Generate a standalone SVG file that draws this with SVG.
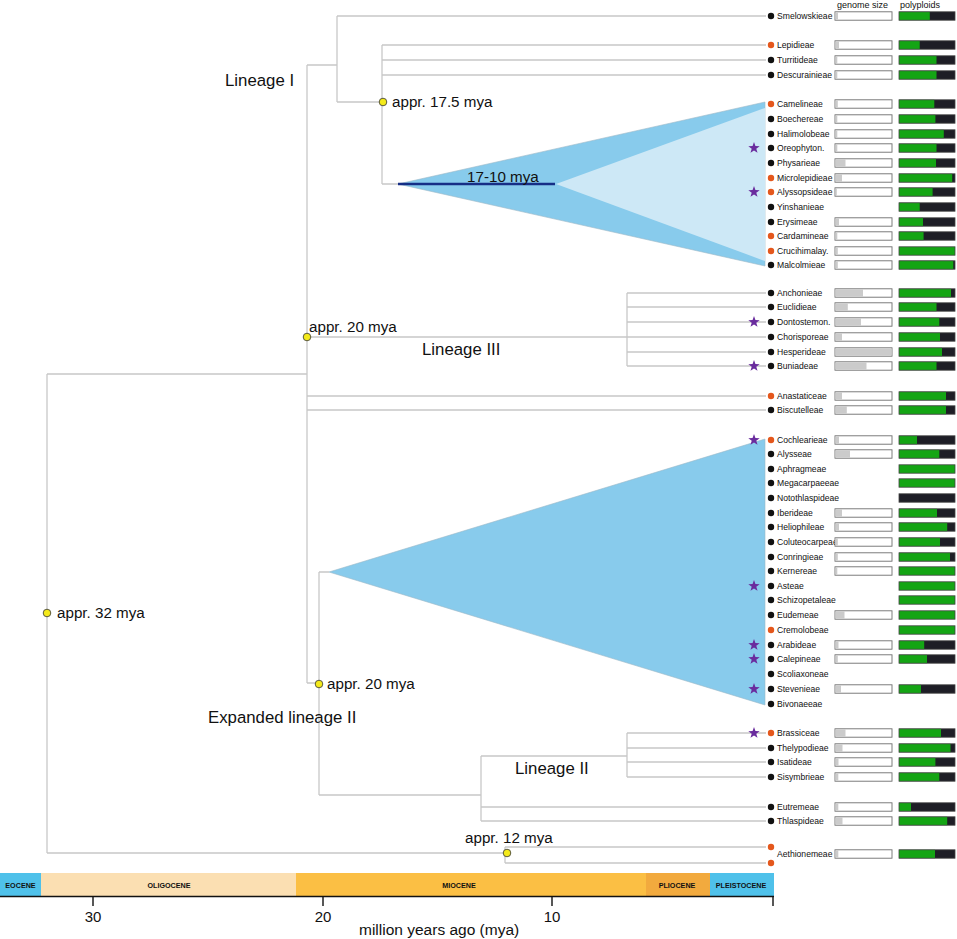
<svg xmlns="http://www.w3.org/2000/svg" xmlns:xlink="http://www.w3.org/1999/xlink" width="957" height="939" viewBox="0 0 957 939">
<style>
text{font-family:"Liberation Sans",Arial,sans-serif;fill:#111}
.lf{font-size:8.6px}
.hd{font-size:9px}
.lb{font-size:16.8px}
.ag{font-size:15.2px}
.ep{font-size:7.2px;font-weight:bold;text-anchor:middle}
.ax{font-size:15px;text-anchor:middle}
.br{fill:none;stroke:#c8c8c8;stroke-width:1.3}
.dk{fill:#111}
.or{fill:#e4571c}
.gb{fill:#fff;stroke:#6e6e6e;stroke-width:0.9}
.gf{fill:#cbcbcb}
.pg{fill:#14a514}
.pb{fill:#1e1e26}
.po{fill:none;stroke:#444;stroke-width:0.8}
.st{fill:#6a2c9e}
.nd{fill:#f4ea1a;stroke:#333;stroke-width:0.8}
</style>
<defs>
<path id="star" d="M0,-6 L1.41,-1.94 L5.71,-1.85 L2.28,0.74 L3.53,4.85 L0,2.4 L-3.53,4.85 L-2.28,0.74 L-5.71,-1.85 L-1.41,-1.94 Z"/>
</defs>
<rect width="957" height="939" fill="#fff"/>

<!-- clade triangles -->
<g id="clade-lineage-I">
<polygon points="398,184 765,102 765,266" fill="#88cbec" stroke="#9cb8c8" stroke-width="0.6"/>
<polygon points="556,184 765,108 765,261" fill="#cde8f6"/>
<line x1="398" y1="184" x2="555" y2="184" stroke="#162e86" stroke-width="2.6"/>
<text x="467" y="182" class="ag">17-10 mya</text>
</g>
<g id="clade-expanded-II">
<polygon points="329,572 765,439 765,705" fill="#88cbec" stroke="#9cb8c8" stroke-width="0.6"/>
</g>

<!-- connectors -->
<g id="connectors">
<path class="br" d="M47,374 V853 M47,374 H307 M47,853 H505"/>
<path class="br" d="M505,847 V863 M505,847 H766 M505,863 H766"/>
<path class="br" d="M307,65 V683 M307,337 H627 M307,396 H766 M307,410 H766 M307,683 H319"/>
<path class="br" d="M307,65 H337 M337,16 V102 M337,16 H766 M337,102 H382 M382,45 V184 M382,45 H766 M382,60 H766 M382,75 H766 M382,184 H398"/>
<path class="br" d="M627,293 V366 M627,293 H766 M627,307 H766 M627,322 H766 M627,337 H766 M627,352 H766 M627,366 H766"/>
<path class="br" d="M319,572 V795 M319,572 H329 M319,795 H481 M481,756 V821 M481,756 H627 M481,807 H766 M481,821 H766 M627,733 V777 M627,733 H766 M627,748 H766 M627,762 H766 M627,777 H766"/>
</g>

<!-- internal nodes -->
<g id="node-32mya"><circle class="nd" cx="47" cy="613" r="3.8"/><text x="57" y="618" class="ag">appr. 32 mya</text></g>
<g id="node-20mya-crown"><circle class="nd" cx="307" cy="337" r="3.8"/><text x="309" y="332" class="ag">appr. 20 mya</text></g>
<g id="node-17mya"><circle class="nd" cx="383" cy="102" r="3.8"/><text x="392" y="107" class="ag">appr. 17.5 mya</text></g>
<g id="node-20mya-exp"><circle class="nd" cx="319" cy="684" r="3.8"/><text x="327" y="689" class="ag">appr. 20 mya</text></g>
<g id="node-12mya"><circle class="nd" cx="507" cy="853" r="3.8"/><text x="465" y="843" class="ag">appr. 12 mya</text></g>

<!-- lineage labels -->
<g id="label-lineage-I"><text x="225" y="86" class="lb">Lineage I</text></g>
<g id="label-lineage-III"><text x="422" y="355" class="lb">Lineage III</text></g>
<g id="label-expanded-II"><text x="208" y="723" class="lb">Expanded lineage II</text></g>
<g id="label-lineage-II"><text x="515" y="774" class="lb">Lineage II</text></g>

<!-- headers -->
<text x="837" y="8" class="hd">genome size</text>
<text x="900" y="8" class="hd">polyploids</text>

<!-- leaves -->
<g id="smelowskieae"><circle class="dk" cx="771" cy="16" r="3.2"/><text x="777" y="19" class="lf">Smelowskieae</text><rect class="gb" x="835" y="11.8" width="57" height="8.4"/><rect class="gf" x="835.5" y="12.3" width="2.5" height="7.4"/><rect class="pb" x="899" y="11.8" width="56" height="8.4"/><rect class="pg" x="899" y="11.8" width="30.8" height="8.4"/><rect class="po" x="899" y="11.8" width="56" height="8.4"/></g>
<g id="lepidieae"><circle class="or" cx="771" cy="45" r="3.2"/><text x="777" y="48" class="lf">Lepidieae</text><rect class="gb" x="835" y="40.8" width="57" height="8.4"/><rect class="gf" x="835.5" y="41.3" width="3.5" height="7.4"/><rect class="pb" x="899" y="40.8" width="56" height="8.4"/><rect class="pg" x="899" y="40.8" width="20.7" height="8.4"/><rect class="po" x="899" y="40.8" width="56" height="8.4"/></g>
<g id="turritideae"><circle class="dk" cx="771" cy="60" r="3.2"/><text x="777" y="63" class="lf">Turritideae</text><rect class="gb" x="835" y="55.8" width="57" height="8.4"/><rect class="gf" x="835.5" y="56.3" width="1.8" height="7.4"/><rect class="pb" x="899" y="55.8" width="56" height="8.4"/><rect class="pg" x="899" y="55.8" width="37.5" height="8.4"/><rect class="po" x="899" y="55.8" width="56" height="8.4"/></g>
<g id="descurainieae"><circle class="dk" cx="771" cy="75" r="3.2"/><text x="777" y="78" class="lf">Descurainieae</text><rect class="gb" x="835" y="70.8" width="57" height="8.4"/><rect class="gf" x="835.5" y="71.3" width="1.8" height="7.4"/><rect class="pb" x="899" y="70.8" width="56" height="8.4"/><rect class="pg" x="899" y="70.8" width="37.5" height="8.4"/><rect class="po" x="899" y="70.8" width="56" height="8.4"/></g>
<g id="camelineae"><circle class="or" cx="771" cy="104" r="3.2"/><text x="777" y="107" class="lf">Camelineae</text><rect class="gb" x="835" y="99.8" width="57" height="8.4"/><rect class="gf" x="835.5" y="100.3" width="2.3" height="7.4"/><rect class="pb" x="899" y="99.8" width="56" height="8.4"/><rect class="pg" x="899" y="99.8" width="35.3" height="8.4"/><rect class="po" x="899" y="99.8" width="56" height="8.4"/></g>
<g id="boechereae"><circle class="dk" cx="771" cy="119" r="3.2"/><text x="777" y="122" class="lf">Boechereae</text><rect class="gb" x="835" y="114.8" width="57" height="8.4"/><rect class="gf" x="835.5" y="115.3" width="1.8" height="7.4"/><rect class="pb" x="899" y="114.8" width="56" height="8.4"/><rect class="pg" x="899" y="114.8" width="36.4" height="8.4"/><rect class="po" x="899" y="114.8" width="56" height="8.4"/></g>
<g id="halimolobeae"><circle class="dk" cx="771" cy="134" r="3.2"/><text x="777" y="137" class="lf">Halimolobeae</text><rect class="gb" x="835" y="129.8" width="57" height="8.4"/><rect class="gf" x="835.5" y="130.3" width="1.8" height="7.4"/><rect class="pb" x="899" y="129.8" width="56" height="8.4"/><rect class="pg" x="899" y="129.8" width="44.8" height="8.4"/><rect class="po" x="899" y="129.8" width="56" height="8.4"/></g>
<g id="oreophyton"><use href="#star" class="st" x="754" y="148"/><circle class="dk" cx="771" cy="148" r="3.2"/><text x="777" y="151" class="lf">Oreophyton.</text><rect class="gb" x="835" y="143.8" width="57" height="8.4"/><rect class="gf" x="835.5" y="144.3" width="1.8" height="7.4"/><rect class="pb" x="899" y="143.8" width="56" height="8.4"/><rect class="pg" x="899" y="143.8" width="37.5" height="8.4"/><rect class="po" x="899" y="143.8" width="56" height="8.4"/></g>
<g id="physarieae"><circle class="dk" cx="771" cy="163" r="3.2"/><text x="777" y="166" class="lf">Physarieae</text><rect class="gb" x="835" y="158.8" width="57" height="8.4"/><rect class="gf" x="835.5" y="159.3" width="10" height="7.4"/><rect class="pb" x="899" y="158.8" width="56" height="8.4"/><rect class="pg" x="899" y="158.8" width="37" height="8.4"/><rect class="po" x="899" y="158.8" width="56" height="8.4"/></g>
<g id="microlepidieae"><circle class="or" cx="771" cy="178" r="3.2"/><text x="777" y="181" class="lf">Microlepidieae</text><rect class="gb" x="835" y="173.8" width="57" height="8.4"/><rect class="gf" x="835.5" y="174.3" width="6.5" height="7.4"/><rect class="pb" x="899" y="173.8" width="56" height="8.4"/><rect class="pg" x="899" y="173.8" width="53.2" height="8.4"/><rect class="po" x="899" y="173.8" width="56" height="8.4"/></g>
<g id="alyssopsideae"><use href="#star" class="st" x="754" y="192"/><circle class="or" cx="771" cy="192" r="3.2"/><text x="777" y="195" class="lf">Alyssopsideae</text><rect class="gb" x="835" y="187.8" width="57" height="8.4"/><rect class="gf" x="835.5" y="188.3" width="1.3" height="7.4"/><rect class="pb" x="899" y="187.8" width="56" height="8.4"/><rect class="pg" x="899" y="187.8" width="33.6" height="8.4"/><rect class="po" x="899" y="187.8" width="56" height="8.4"/></g>
<g id="yinshanieae"><circle class="dk" cx="771" cy="207" r="3.2"/><text x="777" y="210" class="lf">Yinshanieae</text><rect class="pb" x="899" y="202.8" width="56" height="8.4"/><rect class="pg" x="899" y="202.8" width="20.7" height="8.4"/><rect class="po" x="899" y="202.8" width="56" height="8.4"/></g>
<g id="erysimeae"><circle class="dk" cx="771" cy="222" r="3.2"/><text x="777" y="225" class="lf">Erysimeae</text><rect class="gb" x="835" y="217.8" width="57" height="8.4"/><rect class="gf" x="835.5" y="218.3" width="3.5" height="7.4"/><rect class="pb" x="899" y="217.8" width="56" height="8.4"/><rect class="pg" x="899" y="217.8" width="24" height="8.4"/><rect class="po" x="899" y="217.8" width="56" height="8.4"/></g>
<g id="cardamineae"><circle class="or" cx="771" cy="236" r="3.2"/><text x="777" y="239" class="lf">Cardamineae</text><rect class="gb" x="835" y="231.8" width="57" height="8.4"/><rect class="gf" x="835.5" y="232.3" width="1.8" height="7.4"/><rect class="pb" x="899" y="231.8" width="56" height="8.4"/><rect class="pg" x="899" y="231.8" width="24.6" height="8.4"/><rect class="po" x="899" y="231.8" width="56" height="8.4"/></g>
<g id="crucihimalay"><circle class="or" cx="771" cy="251" r="3.2"/><text x="777" y="254" class="lf">Crucihimalay.</text><rect class="gb" x="835" y="246.8" width="57" height="8.4"/><rect class="gf" x="835.5" y="247.3" width="2.3" height="7.4"/><rect class="pg" x="899" y="246.8" width="56" height="8.4"/><rect class="po" x="899" y="246.8" width="56" height="8.4"/></g>
<g id="malcolmieae"><circle class="dk" cx="771" cy="265" r="3.2"/><text x="777" y="268" class="lf">Malcolmieae</text><rect class="gb" x="835" y="260.8" width="57" height="8.4"/><rect class="gf" x="835.5" y="261.3" width="2.3" height="7.4"/><rect class="pb" x="899" y="260.8" width="56" height="8.4"/><rect class="pg" x="899" y="260.8" width="54.3" height="8.4"/><rect class="po" x="899" y="260.8" width="56" height="8.4"/></g>
<g id="anchonieae"><circle class="dk" cx="771" cy="293" r="3.2"/><text x="777" y="296" class="lf">Anchonieae</text><rect class="gb" x="835" y="288.8" width="57" height="8.4"/><rect class="gf" x="835.5" y="289.3" width="27.5" height="7.4"/><rect class="pb" x="899" y="288.8" width="56" height="8.4"/><rect class="pg" x="899" y="288.8" width="52" height="8.4"/><rect class="po" x="899" y="288.8" width="56" height="8.4"/></g>
<g id="euclidieae"><circle class="dk" cx="771" cy="307" r="3.2"/><text x="777" y="310" class="lf">Euclidieae</text><rect class="gb" x="835" y="302.8" width="57" height="8.4"/><rect class="gf" x="835.5" y="303.3" width="12.3" height="7.4"/><rect class="pb" x="899" y="302.8" width="56" height="8.4"/><rect class="pg" x="899" y="302.8" width="37.5" height="8.4"/><rect class="po" x="899" y="302.8" width="56" height="8.4"/></g>
<g id="dontostemon"><use href="#star" class="st" x="754" y="322"/><circle class="dk" cx="771" cy="322" r="3.2"/><text x="777" y="325" class="lf">Dontostemon.</text><rect class="gb" x="835" y="317.8" width="57" height="8.4"/><rect class="gf" x="835.5" y="318.3" width="25.5" height="7.4"/><rect class="pb" x="899" y="317.8" width="56" height="8.4"/><rect class="pg" x="899" y="317.8" width="40.3" height="8.4"/><rect class="po" x="899" y="317.8" width="56" height="8.4"/></g>
<g id="chorisporeae"><circle class="dk" cx="771" cy="337" r="3.2"/><text x="777" y="340" class="lf">Chorisporeae</text><rect class="gb" x="835" y="332.8" width="57" height="8.4"/><rect class="gf" x="835.5" y="333.3" width="6.5" height="7.4"/><rect class="pb" x="899" y="332.8" width="56" height="8.4"/><rect class="pg" x="899" y="332.8" width="41" height="8.4"/><rect class="po" x="899" y="332.8" width="56" height="8.4"/></g>
<g id="hesperideae"><circle class="dk" cx="771" cy="352" r="3.2"/><text x="777" y="355" class="lf">Hesperideae</text><rect class="gb" x="835" y="347.8" width="57" height="8.4"/><rect class="gf" x="835.5" y="348.3" width="56" height="7.4"/><rect class="pb" x="899" y="347.8" width="56" height="8.4"/><rect class="pg" x="899" y="347.8" width="43" height="8.4"/><rect class="po" x="899" y="347.8" width="56" height="8.4"/></g>
<g id="buniadeae"><use href="#star" class="st" x="754" y="366"/><circle class="dk" cx="771" cy="366" r="3.2"/><text x="777" y="369" class="lf">Buniadeae</text><rect class="gb" x="835" y="361.8" width="57" height="8.4"/><rect class="gf" x="835.5" y="362.3" width="31" height="7.4"/><rect class="pb" x="899" y="361.8" width="56" height="8.4"/><rect class="pg" x="899" y="361.8" width="37.5" height="8.4"/><rect class="po" x="899" y="361.8" width="56" height="8.4"/></g>
<g id="anastaticeae"><circle class="or" cx="771" cy="396" r="3.2"/><text x="777" y="399" class="lf">Anastaticeae</text><rect class="gb" x="835" y="391.8" width="57" height="8.4"/><rect class="gf" x="835.5" y="392.3" width="6.5" height="7.4"/><rect class="pb" x="899" y="391.8" width="56" height="8.4"/><rect class="pg" x="899" y="391.8" width="47" height="8.4"/><rect class="po" x="899" y="391.8" width="56" height="8.4"/></g>
<g id="biscutelleae"><circle class="dk" cx="771" cy="410" r="3.2"/><text x="777" y="413" class="lf">Biscutelleae</text><rect class="gb" x="835" y="405.8" width="57" height="8.4"/><rect class="gf" x="835.5" y="406.3" width="11.3" height="7.4"/><rect class="pb" x="899" y="405.8" width="56" height="8.4"/><rect class="pg" x="899" y="405.8" width="47" height="8.4"/><rect class="po" x="899" y="405.8" width="56" height="8.4"/></g>
<g id="cochlearieae"><use href="#star" class="st" x="754" y="440"/><circle class="or" cx="771" cy="440" r="3.2"/><text x="777" y="443" class="lf">Cochlearieae</text><rect class="gb" x="835" y="435.8" width="57" height="8.4"/><rect class="gf" x="835.5" y="436.3" width="3.5" height="7.4"/><rect class="pb" x="899" y="435.8" width="56" height="8.4"/><rect class="pg" x="899" y="435.8" width="18" height="8.4"/><rect class="po" x="899" y="435.8" width="56" height="8.4"/></g>
<g id="alysseae"><circle class="dk" cx="771" cy="454" r="3.2"/><text x="777" y="457" class="lf">Alysseae</text><rect class="gb" x="835" y="449.8" width="57" height="8.4"/><rect class="gf" x="835.5" y="450.3" width="14.5" height="7.4"/><rect class="pb" x="899" y="449.8" width="56" height="8.4"/><rect class="pg" x="899" y="449.8" width="40.3" height="8.4"/><rect class="po" x="899" y="449.8" width="56" height="8.4"/></g>
<g id="aphragmeae"><circle class="dk" cx="771" cy="469" r="3.2"/><text x="777" y="472" class="lf">Aphragmeae</text><rect class="pg" x="899" y="464.8" width="56" height="8.4"/><rect class="po" x="899" y="464.8" width="56" height="8.4"/></g>
<g id="megacarpaeeae"><circle class="dk" cx="771" cy="483" r="3.2"/><text x="777" y="486" class="lf">Megacarpaeeae</text><rect class="pg" x="899" y="478.8" width="56" height="8.4"/><rect class="po" x="899" y="478.8" width="56" height="8.4"/></g>
<g id="notothlaspideae"><circle class="dk" cx="771" cy="498" r="3.2"/><text x="777" y="501" class="lf">Notothlaspideae</text><rect class="pb" x="899" y="493.8" width="56" height="8.4"/><rect class="po" x="899" y="493.8" width="56" height="8.4"/></g>
<g id="iberideae"><circle class="dk" cx="771" cy="513" r="3.2"/><text x="777" y="516" class="lf">Iberideae</text><rect class="gb" x="835" y="508.8" width="57" height="8.4"/><rect class="gf" x="835.5" y="509.3" width="6.5" height="7.4"/><rect class="pb" x="899" y="508.8" width="56" height="8.4"/><rect class="pg" x="899" y="508.8" width="38" height="8.4"/><rect class="po" x="899" y="508.8" width="56" height="8.4"/></g>
<g id="heliophileae"><circle class="dk" cx="771" cy="527" r="3.2"/><text x="777" y="530" class="lf">Heliophileae</text><rect class="gb" x="835" y="522.8" width="57" height="8.4"/><rect class="gf" x="835.5" y="523.3" width="3.5" height="7.4"/><rect class="pb" x="899" y="522.8" width="56" height="8.4"/><rect class="pg" x="899" y="522.8" width="48.2" height="8.4"/><rect class="po" x="899" y="522.8" width="56" height="8.4"/></g>
<g id="coluteocarpeae"><circle class="dk" cx="771" cy="542" r="3.2"/><text x="777" y="545" class="lf">Coluteocarpeae</text><rect class="gb" x="835" y="537.8" width="57" height="8.4"/><rect class="gf" x="835.5" y="538.3" width="2.3" height="7.4"/><rect class="pb" x="899" y="537.8" width="56" height="8.4"/><rect class="pg" x="899" y="537.8" width="41" height="8.4"/><rect class="po" x="899" y="537.8" width="56" height="8.4"/></g>
<g id="conringieae"><circle class="dk" cx="771" cy="557" r="3.2"/><text x="777" y="560" class="lf">Conringieae</text><rect class="gb" x="835" y="552.8" width="57" height="8.4"/><rect class="gf" x="835.5" y="553.3" width="2.3" height="7.4"/><rect class="pb" x="899" y="552.8" width="56" height="8.4"/><rect class="pg" x="899" y="552.8" width="51" height="8.4"/><rect class="po" x="899" y="552.8" width="56" height="8.4"/></g>
<g id="kernereae"><circle class="dk" cx="771" cy="571" r="3.2"/><text x="777" y="574" class="lf">Kernereae</text><rect class="gb" x="835" y="566.8" width="57" height="8.4"/><rect class="gf" x="835.5" y="567.3" width="1.8" height="7.4"/><rect class="pg" x="899" y="566.8" width="56" height="8.4"/><rect class="po" x="899" y="566.8" width="56" height="8.4"/></g>
<g id="asteae"><use href="#star" class="st" x="754" y="586"/><circle class="dk" cx="771" cy="586" r="3.2"/><text x="777" y="589" class="lf">Asteae</text><rect class="pg" x="899" y="581.8" width="56" height="8.4"/><rect class="po" x="899" y="581.8" width="56" height="8.4"/></g>
<g id="schizopetaleae"><circle class="dk" cx="771" cy="600" r="3.2"/><text x="777" y="603" class="lf">Schizopetaleae</text><rect class="pg" x="899" y="595.8" width="56" height="8.4"/><rect class="po" x="899" y="595.8" width="56" height="8.4"/></g>
<g id="eudemeae"><circle class="dk" cx="771" cy="615" r="3.2"/><text x="777" y="618" class="lf">Eudemeae</text><rect class="gb" x="835" y="610.8" width="57" height="8.4"/><rect class="gf" x="835.5" y="611.3" width="9" height="7.4"/><rect class="pg" x="899" y="610.8" width="56" height="8.4"/><rect class="po" x="899" y="610.8" width="56" height="8.4"/></g>
<g id="cremolobeae"><circle class="or" cx="771" cy="630" r="3.2"/><text x="777" y="633" class="lf">Cremolobeae</text><rect class="pg" x="899" y="625.8" width="56" height="8.4"/><rect class="po" x="899" y="625.8" width="56" height="8.4"/></g>
<g id="arabideae"><use href="#star" class="st" x="754" y="645"/><circle class="dk" cx="771" cy="645" r="3.2"/><text x="777" y="648" class="lf">Arabideae</text><rect class="gb" x="835" y="640.8" width="57" height="8.4"/><rect class="gf" x="835.5" y="641.3" width="3" height="7.4"/><rect class="pb" x="899" y="640.8" width="56" height="8.4"/><rect class="pg" x="899" y="640.8" width="25.2" height="8.4"/><rect class="po" x="899" y="640.8" width="56" height="8.4"/></g>
<g id="calepineae"><use href="#star" class="st" x="754" y="659"/><circle class="dk" cx="771" cy="659" r="3.2"/><text x="777" y="662" class="lf">Calepineae</text><rect class="gb" x="835" y="654.8" width="57" height="8.4"/><rect class="gf" x="835.5" y="655.3" width="2.3" height="7.4"/><rect class="pb" x="899" y="654.8" width="56" height="8.4"/><rect class="pg" x="899" y="654.8" width="28" height="8.4"/><rect class="po" x="899" y="654.8" width="56" height="8.4"/></g>
<g id="scoliaxoneae"><circle class="dk" cx="771" cy="674" r="3.2"/><text x="777" y="677" class="lf">Scoliaxoneae</text></g>
<g id="stevenieae"><use href="#star" class="st" x="754" y="689"/><circle class="dk" cx="771" cy="689" r="3.2"/><text x="777" y="692" class="lf">Stevenieae</text><rect class="gb" x="835" y="684.8" width="57" height="8.4"/><rect class="gf" x="835.5" y="685.3" width="5.5" height="7.4"/><rect class="pb" x="899" y="684.8" width="56" height="8.4"/><rect class="pg" x="899" y="684.8" width="22" height="8.4"/><rect class="po" x="899" y="684.8" width="56" height="8.4"/></g>
<g id="bivonaeeae"><circle class="dk" cx="771" cy="704" r="3.2"/><text x="777" y="707" class="lf">Bivonaeeae</text></g>
<g id="brassiceae"><use href="#star" class="st" x="754" y="733"/><circle class="or" cx="771" cy="733" r="3.2"/><text x="777" y="736" class="lf">Brassiceae</text><rect class="gb" x="835" y="728.8" width="57" height="8.4"/><rect class="gf" x="835.5" y="729.3" width="10" height="7.4"/><rect class="pb" x="899" y="728.8" width="56" height="8.4"/><rect class="pg" x="899" y="728.8" width="42" height="8.4"/><rect class="po" x="899" y="728.8" width="56" height="8.4"/></g>
<g id="thelypodieae"><circle class="dk" cx="771" cy="748" r="3.2"/><text x="777" y="751" class="lf">Thelypodieae</text><rect class="gb" x="835" y="743.8" width="57" height="8.4"/><rect class="gf" x="835.5" y="744.3" width="7" height="7.4"/><rect class="pb" x="899" y="743.8" width="56" height="8.4"/><rect class="pg" x="899" y="743.8" width="51.5" height="8.4"/><rect class="po" x="899" y="743.8" width="56" height="8.4"/></g>
<g id="isatideae"><circle class="dk" cx="771" cy="762" r="3.2"/><text x="777" y="765" class="lf">Isatideae</text><rect class="gb" x="835" y="757.8" width="57" height="8.4"/><rect class="gf" x="835.5" y="758.3" width="3" height="7.4"/><rect class="pb" x="899" y="757.8" width="56" height="8.4"/><rect class="pg" x="899" y="757.8" width="36.4" height="8.4"/><rect class="po" x="899" y="757.8" width="56" height="8.4"/></g>
<g id="sisymbrieae"><circle class="dk" cx="771" cy="777" r="3.2"/><text x="777" y="780" class="lf">Sisymbrieae</text><rect class="gb" x="835" y="772.8" width="57" height="8.4"/><rect class="gf" x="835.5" y="773.3" width="2.8" height="7.4"/><rect class="pb" x="899" y="772.8" width="56" height="8.4"/><rect class="pg" x="899" y="772.8" width="40.3" height="8.4"/><rect class="po" x="899" y="772.8" width="56" height="8.4"/></g>
<g id="eutremeae"><circle class="dk" cx="771" cy="807" r="3.2"/><text x="777" y="810" class="lf">Eutremeae</text><rect class="gb" x="835" y="802.8" width="57" height="8.4"/><rect class="gf" x="835.5" y="803.3" width="2.8" height="7.4"/><rect class="pb" x="899" y="802.8" width="56" height="8.4"/><rect class="pg" x="899" y="802.8" width="12" height="8.4"/><rect class="po" x="899" y="802.8" width="56" height="8.4"/></g>
<g id="thlaspideae"><circle class="dk" cx="771" cy="821" r="3.2"/><text x="777" y="824" class="lf">Thlaspideae</text><rect class="gb" x="835" y="816.8" width="57" height="8.4"/><rect class="gf" x="835.5" y="817.3" width="7" height="7.4"/><rect class="pb" x="899" y="816.8" width="56" height="8.4"/><rect class="pg" x="899" y="816.8" width="48.2" height="8.4"/><rect class="po" x="899" y="816.8" width="56" height="8.4"/></g>
<g id="aethionemeae"><circle class="or" cx="771" cy="847" r="3.2"/><circle class="or" cx="771" cy="863" r="3.2"/><text x="777" y="857" class="lf">Aethionemeae</text><rect class="gb" x="835" y="849.8" width="57" height="8.4"/><rect class="gf" x="835.5" y="850.3" width="2.8" height="7.4"/><rect class="pb" x="899" y="849.8" width="56" height="8.4"/><rect class="pg" x="899" y="849.8" width="36" height="8.4"/><rect class="po" x="899" y="849.8" width="56" height="8.4"/></g>

<!-- time scale -->
<g id="timescale">
<rect x="0" y="873" width="41" height="23" fill="#4fc1ea"/>
<rect x="41" y="873" width="255" height="23" fill="#fbdfb2"/>
<rect x="296" y="873" width="350" height="23" fill="#fbbf44"/>
<rect x="646" y="873" width="64" height="23" fill="#f2aa3e"/>
<rect x="710" y="873" width="64" height="23" fill="#4fc1ea"/>
<text x="20.5" y="888" class="ep">EOCENE</text>
<text x="169" y="888" class="ep">OLIGOCENE</text>
<text x="459" y="888" class="ep">MIOCENE</text>
<text x="677" y="888" class="ep">PLIOCENE</text>
<text x="741" y="888" class="ep">PLEISTOCENE</text>
<path d="M0,896.5 H774 M93,896 V906 M323,896 V906 M552,896 V906 M773,896 V906" stroke="#111" stroke-width="1.4" fill="none"/>
<text x="93" y="922" class="ax">30</text>
<text x="323" y="922" class="ax">20</text>
<text x="552" y="922" class="ax">10</text>
<text x="359" y="935" style="font-size:15.5px">million years ago (mya)</text>
</g>
</svg>
